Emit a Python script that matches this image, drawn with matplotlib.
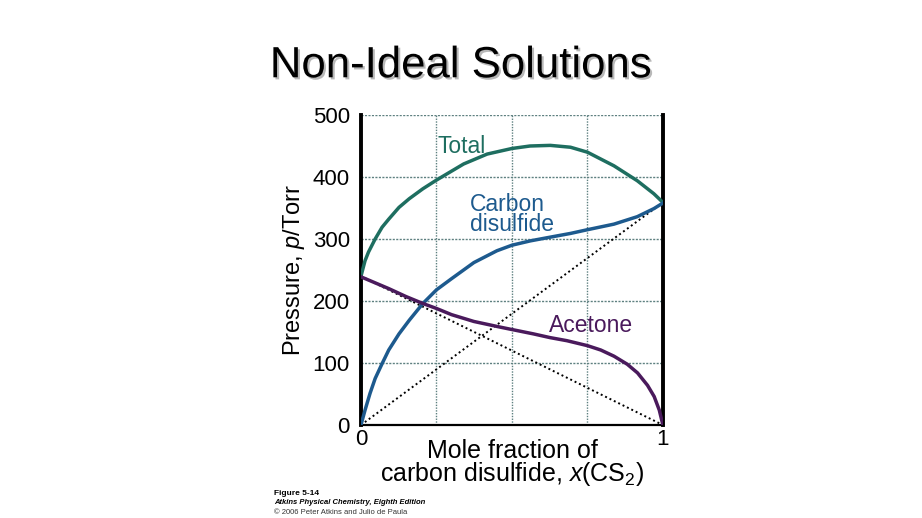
import matplotlib
matplotlib.use("Agg")
import matplotlib.pyplot as plt
import matplotlib.patheffects as pe

plt.rcParams['font.family'] = ['Liberation Sans', 'DejaVu Sans']
plt.rcParams['mathtext.fontset'] = 'custom'
plt.rcParams['mathtext.it'] = 'Liberation Sans:italic'
plt.rcParams['mathtext.rm'] = 'Liberation Sans'

# values (x = mole fraction of CS2, p in Torr)
x_total = [0.0, 0.0135, 0.025, 0.047, 0.07, 0.092, 0.126, 0.16, 0.205, 0.25, 0.34,
           0.418, 0.5, 0.56, 0.627, 0.694, 0.75, 0.838, 0.915, 0.97, 1.0]
p_total = [240, 265, 279, 300, 319, 332, 351, 365, 381, 395, 421,
           437, 446, 450, 451, 448, 440, 418, 394, 373, 359]

x_cs2 = [0.0, 0.0135, 0.03, 0.047, 0.07, 0.092, 0.126, 0.16, 0.205, 0.25, 0.3, 0.374,
         0.45, 0.5, 0.561, 0.627, 0.694, 0.75, 0.838, 0.915, 0.97, 1.0]
p_cs2 = [0, 24, 51, 75, 99, 121, 147, 169, 196, 218, 236, 262,
         281, 290, 297, 303, 309, 315, 324, 336, 349, 358]

x_acetone = [0.0, 0.092, 0.15, 0.205, 0.25, 0.3, 0.374, 0.46, 0.5, 0.571, 0.626, 0.682,
             0.75, 0.794, 0.838, 0.882, 0.916, 0.949, 0.971, 0.988, 1.0]
p_acetone = [239, 220, 207, 196, 188, 178, 167, 158, 154, 147, 141, 136,
             128, 121, 111, 98, 84, 64, 46, 24, 0]

# Raoult's-law reference lines
x_ideal = [0, 1]
p_ideal_cs2 = [0, 359]
p_ideal_acetone = [240, 0]

c_total = '#1e6e60'
c_cs2 = '#1d5a8e'
c_acetone = '#4a1a5c'
c_grid = '#5e8080'

fig = plt.figure(figsize=(9.22, 5.18), dpi=100)
ax = fig.add_axes([0.3915, 0.1795, 0.3275, 0.5985])

for gx in [0.25, 0.5, 0.75]:
    ax.axvline(gx, color=c_grid, lw=1.0, ls=(0, (1, 1)), zorder=1)
for gy in [100, 200, 300, 400, 500]:
    ax.axhline(gy, color=c_grid, lw=1.0, ls=(0, (1.5, 1)), zorder=1)

ax.plot(x_ideal, p_ideal_cs2, color='black', lw=1.4, ls=(0, (1, 1.5)), zorder=2)
ax.plot(x_ideal, p_ideal_acetone, color='black', lw=1.4, ls=(0, (1, 1.5)), zorder=2)

ax.plot(x_total, p_total, color=c_total, lw=2.5, zorder=3, solid_joinstyle='round')
ax.plot(x_cs2, p_cs2, color=c_cs2, lw=2.5, zorder=3, solid_joinstyle='round')
ax.plot(x_acetone, p_acetone, color=c_acetone, lw=2.5, zorder=3, solid_joinstyle='round')

ax.text(0.255, 449, 'Total', color=c_total, fontsize=16.5, va='center', ha='left')
ax.text(0.36, 340, 'Carbon\ndisulfide', color=c_cs2, fontsize=16.5, va='center', ha='left',
        linespacing=0.85)
ax.text(0.622, 160, 'Acetone', color=c_acetone, fontsize=16.5, va='center', ha='left')

ax.set_xlim(0, 1)
ax.set_ylim(0, 500)
ax.set_xticks([0, 1])
ax.set_xticklabels(['0', '1'])
ax.set_yticks([0, 100, 200, 300, 400, 500])
ax.tick_params(length=0, labelsize=16)
ax.tick_params(axis='y', pad=8)
ax.tick_params(axis='x', pad=3)

ax.spines['left'].set_linewidth(2.8)
ax.spines['right'].set_linewidth(2.8)
ax.spines['bottom'].set_linewidth(1.6)
ax.spines['top'].set_visible(False)

ax.set_ylabel('Pressure, $p$/Torr', fontsize=17, labelpad=4)
ax.set_xlabel('Mole fraction of\ncarbon disulfide, $x$(CS$_2$)', fontsize=18,
              linespacing=0.85, labelpad=-8)

# title with a light shadow
fig.text(0.5, 0.873, 'Non-Ideal Solutions', fontsize=31.5, ha='center', va='center',
         color='black',
         path_effects=[pe.SimplePatchShadow(offset=(1.5, -1.5), shadow_rgbFace='#b8b8b8',
                                            alpha=1.0),
                       pe.Normal()])

fig.text(0.297, 0.048, 'Figure 5-14', fontsize=6, fontweight='bold', va='center')
fig.text(0.297, 0.029, 'Atkins Physical Chemistry, Eighth Edition', fontsize=5.5,
         fontweight='bold', fontstyle='italic', va='center')
fig.text(0.297, 0.011, '\u00a9 2006 Peter Atkins and Julio de Paula', fontsize=5.5,
         color='#333333', va='center')

fig.savefig('out.png', dpi=100)
